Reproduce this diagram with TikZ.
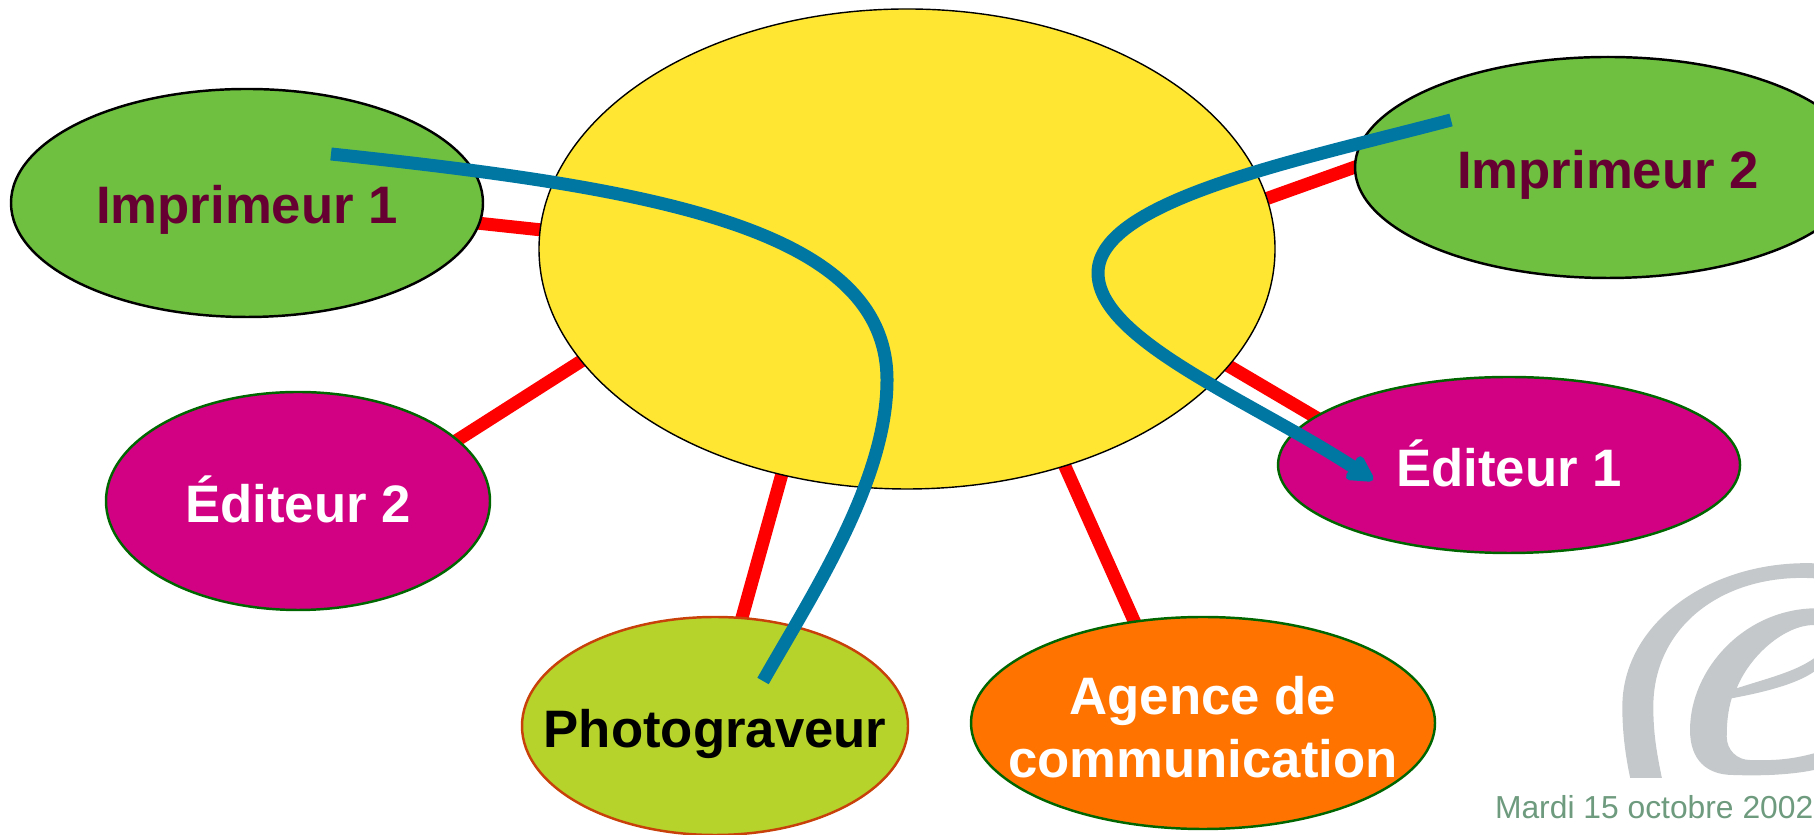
\documentclass[tikz,border=0pt]{standalone}
\usepackage{fontspec}
\setmainfont{Liberation Sans}
\usetikzlibrary{shapes.geometric,backgrounds,arrows.meta}
\definecolor{feuille}{HTML}{6FC040}
\definecolor{bordeaux}{HTML}{660033}
\definecolor{magenta}{HTML}{D20082}
\definecolor{jaune}{HTML}{FFE632}
\definecolor{olive}{HTML}{B5D32B}
\definecolor{orange}{HTML}{FF7300}
\definecolor{flux}{HTML}{0077A3}
\definecolor{lien}{HTML}{FF0000}
\definecolor{date}{HTML}{6E9A7E}
\definecolor{logo}{HTML}{C5C8CA}
\definecolor{vert}{HTML}{006600}
\definecolor{brique}{HTML}{C8400A}
\tikzset{
	lobe/.style={ellipse,inner sep=-1.5cm,draw,line width=.7pt,align=center,font=\fontsize{15}{17.9}\selectfont\bfseries},
	imprimeur/.style={lobe,fill=feuille,text=bordeaux,text height=11.8pt,text depth=0pt},
	editeur/.style={lobe,fill=magenta,draw=vert,text=white,text height=12pt,text depth=0pt},
	lien/.style={draw=lien,line width=.13cm,shorten <=-2pt,shorten >=-2pt},
	flux/.style={draw=flux,line width=.13cm}
}
\begin{document}
\begin{tikzpicture}[line join=round]
	\useasboundingbox (0,0) rectangle (18.14,8.35);
	% logo
	\begin{scope}
		\clip (16,.577) rectangle (18.14,3);
		\fill[logo] (18.14,2.717) .. controls (17.1,2.75) and (16.223,2.117) .. (16.223,1.283) .. controls (16.223,1) and (16.26,.75) .. (16.317,.5)
			-- (16.633,.5) .. controls (16.57,.8) and (16.533,1) .. (16.533,1.283) .. controls (16.533,2.1) and (17.25,2.62) .. (18.14,2.567) -- cycle;
		\fill[logo] (18.14,2.267) .. controls (17.433,2.25) and (16.9,1.65) .. (16.9,1.05) .. controls (16.9,.75) and (17.067,.6) .. (17.333,.6)
			.. controls (17.6,.59) and (17.9,.6) .. (18.14,.65) -- (18.14,.817) .. controls (17.9,.75) and (17.7,.743) .. (17.5,.75)
			.. controls (17.37,.75) and (17.267,.85) .. (17.267,.983) .. controls (17.267,1.12) and (17.28,1.25) .. (17.317,1.367)
			.. controls (17.6,1.42) and (17.95,1.5) .. (18.14,1.633) -- (18.14,1.767) .. controls (17.95,1.63) and (17.65,1.56) .. (17.367,1.467)
			.. controls (17.5,1.8) and (17.85,2.1) .. (18.14,2.1) -- cycle;
	\end{scope}
	\node[lobe,fill=jaune,line width=.4pt,minimum width=7.36cm,minimum height=4.8cm] (centre) at (9.07,5.86) {};
	\node[imprimeur,minimum width=4.72cm,minimum height=2.28cm] (imprimeurA) at (2.47,6.32) {Imprimeur 1};
	\node[imprimeur,minimum width=5.06cm,minimum height=2.21cm] (imprimeurB) at (16.08,6.675) {Imprimeur 2};
	\node[editeur,minimum width=4.62cm,minimum height=1.76cm] (editeurA) at (15.09,3.7) {Éditeur 1};
	\node[editeur,minimum width=3.84cm,minimum height=2.18cm] (editeurB) at (2.98,3.34) {Éditeur 2};
	\node[lobe,fill=olive,draw=brique,text=black,text height=12.4pt,text depth=0pt,minimum width=3.86cm,minimum height=2.18cm] (photograveur) at (7.15,1.09) {Photograveur};
	\node[lobe,fill=orange,draw=vert,text=white,minimum width=4.64cm,minimum height=2.12cm] (agence) at (12.03,1.12) {\rule{0pt}{13pt}Agence de\\communication};
	\node[anchor=east,inner sep=0pt,text=date,font=\fontsize{9.05}{11}\selectfont] (dateA) at (18.14,.28) {Mardi 15 octobre 2002};
	% liens
	\begin{scope}[on background layer]
		\foreach \i/\j in {imprimeurA.-5/centre.177,imprimeurB.180/centre.8,editeurA.166/centre.-20,editeurB.21/centre.199,photograveur.76/centre.241,agence.124/centre.-54}
		\draw[lien] (\i)--(\j);
	\end{scope}
	% flux
	\path (3.31,6.81)coordinate(departA)+(4.32,-5.27)coordinate(arriveeA) (14.51,7.15)coordinate(departB)+(-.78,-3.6)coordinate(arriveeB);
	\draw[flux] (departA) .. controls (6.5,6.47) and (8.87,6.08) .. (8.87,4.55) .. controls (8.87,3.55) and (8.15,2.45) .. (arriveeA);
	\draw[flux,-{Triangle[round,length=.3cm,width=.3cm,line width=.12cm]}] (departB) .. controls (13,6.75) and (10.98,6.35) .. (10.98,5.62) .. controls (10.98,4.95) and (12.5,4.35) .. (arriveeB);
\end{tikzpicture}
\end{document}
